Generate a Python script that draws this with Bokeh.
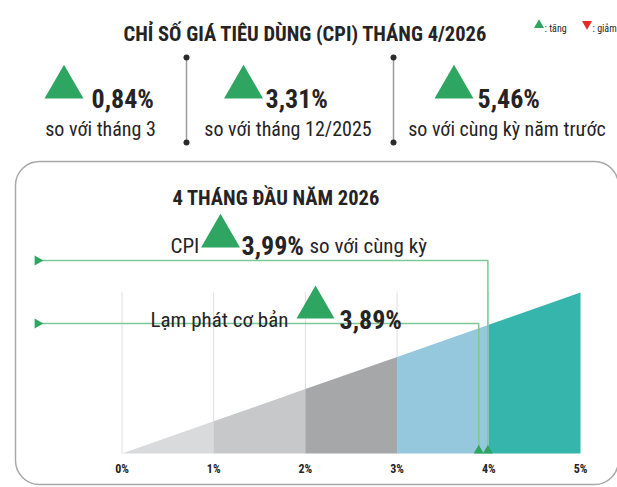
import numpy as np
from bokeh.plotting import figure
from bokeh.models import Range1d
from bokeh.core.properties import value
from bokeh.embed import file_html
from bokeh.resources import INLINE

# ---------------- data ----------------
title = "CHỈ SỐ GIÁ TIÊU DÙNG (CPI) THÁNG 4/2026"
stat_values = ["0,84%", "3,31%", "5,46%"]
stat_labels = ["so với tháng 3", "so với tháng 12/2025", "so với cùng kỳ năm trước"]
period_title = "4 THÁNG ĐẦU NĂM 2026"
cpi_yoy = 3.99
cpi_text = "3,99%"
core_inflation = 3.89
core_text = "3,89%"
ticks = [0, 1, 2, 3, 4, 5]
tick_labels = ["0%", "1%", "2%", "3%", "4%", "5%"]
band_starts = [0, 1, 2, 3, 4]
band_ends = [1, 2, 3, 4, 5]
band_colors = ["#d9dadc", "#c7c8ca", "#a6a7a9", "#96c8dd", "#36b5ac"]

# ---------------- layout helpers ----------------
W, H = 617, 487
OX, OY = 0, 0
PX0, PXU = 121.5, 91.7      # image x of 0 %, pixels per 1 %
BASE, PYU = 453.0, 32.2     # image y of baseline, pixels per y unit
RAMP_TOP = 5.0


def X(ix):
    return (ix - PX0) / PXU


def Y(iy):
    return (BASE - iy) / PYU


GREEN = "#2fa562"
LINE_GREEN = "#7cc896"
DARK = "#262324"
FONT = "Roboto Condensed"

p = figure(width=W, height=H,
           x_range=Range1d(X(OX), X(OX + W)),
           y_range=Range1d(Y(OY + H), Y(OY)),
           output_backend="svg", toolbar_location=None,
           x_axis_type=None, y_axis_type=None, min_border=0)
p.grid.visible = False
p.outline_line_color = None
p.background_fill_color = "white"


def txt(x, y, s, size, bold=False, align="left", color=DARK):
    p.text(x=[x], y=[y], text=[s], text_font=value(FONT),
           text_font_size=f"{size}px",
           text_font_style="bold" if bold else "normal",
           text_align=align, text_baseline="alphabetic", text_color=color)


# ---------------- header ----------------
txt(X(123), Y(33), title, 20.5, bold=True)

p.scatter(x=[X(538.5)], y=[Y(24.5)], marker="triangle", size=10,
          fill_color=GREEN, line_color=None)
txt(X(544), Y(28), ": tăng", 10)
p.scatter(x=[X(586.5)], y=[Y(23.5)], marker="inverted_triangle", size=10,
          fill_color="#e52a2a", line_color=None)
txt(X(592), Y(28), ": giảm", 10)

tri_cx = [63.5, 243, 453.5]
val_left = [91, 265, 477]
lab_cx = [100, 287.5, 506.5]
p.scatter(x=[X(c) for c in tri_cx], y=[Y(86.7)] * 3, marker="triangle",
          size=39, fill_color=GREEN, line_color=None)
for vl, sv in zip(val_left, stat_values):
    txt(X(vl), Y(98), sv, 26, bold=True)
for lc, sl in zip(lab_cx, stat_labels):
    txt(X(lc), Y(128), sl, 20, align="center")

div_x = [X(186), X(393)]
p.segment(x0=div_x, y0=[Y(57)] * 2, x1=div_x, y1=[Y(142)] * 2,
          line_color="#9a9a9a", line_width=1.5)
p.scatter(x=div_x * 2, y=[Y(57)] * 2 + [Y(142)] * 2, marker="circle",
          size=6, fill_color="#2b2b2b", line_color=None)

# ---------------- panel ----------------
p.quad(left=[X(15)], right=[X(618)], top=[Y(161)], bottom=[Y(484)],
       fill_color=None, line_color="#a8a8a8", line_width=1.5,
       border_radius=24)

txt(X(172), Y(197), period_title, 20.5, bold=True)

# gridlines
p.segment(x0=ticks[:-1], y0=[0] * (len(ticks) - 1), x1=ticks[:-1],
          y1=[RAMP_TOP] * (len(ticks) - 1), line_color="#dedede", line_width=1)

# ramp bands
slope = RAMP_TOP / ticks[-1]
p.patches(xs=[[a, b, b, a] for a, b in zip(band_starts, band_ends)],
          ys=[[0, 0, b * slope, a * slope] for a, b in zip(band_starts, band_ends)],
          fill_color=band_colors, line_color=None)

# value lines
for val, iy in ((cpi_yoy, 260), (core_inflation, 323)):
    p.line(x=[X(40), val, val], y=[Y(iy), Y(iy), 0],
           line_color=LINE_GREEN, line_width=1.5)
p.scatter(x=[X(37)] * 2, y=[Y(260), Y(323)], marker="triangle",
          angle=-np.pi / 2, size=10, fill_color=GREEN, line_color=None)
p.scatter(x=[core_inflation, cpi_yoy], y=[2.9 / PYU] * 2, marker="triangle",
          size=10, fill_color=GREEN, line_color=None)

# CPI text row
txt(X(170), Y(245), "CPI", 21)
p.scatter(x=[X(220)], y=[Y(235.7)], marker="triangle", size=39,
          fill_color=GREEN, line_color=None)
txt(X(241), Y(245), cpi_text, 26, bold=True)
txt(X(309), Y(245), "so với cùng kỳ", 21)

# core inflation row
txt(X(150), Y(319), "Lạm phát cơ bản", 21)
p.scatter(x=[X(315)], y=[Y(307)], marker="triangle", size=38,
          fill_color=GREEN, line_color=None)
txt(X(339), Y(319), core_text, 26, bold=True)

# tick labels
p.text(x=ticks, y=[Y(468)] * len(ticks), text=tick_labels,
       text_font=value(FONT), text_font_size="12px", text_font_style="bold",
       text_align="center", text_baseline="alphabetic", text_color=DARK)

open("out.html", "w").write(file_html(p, INLINE))
